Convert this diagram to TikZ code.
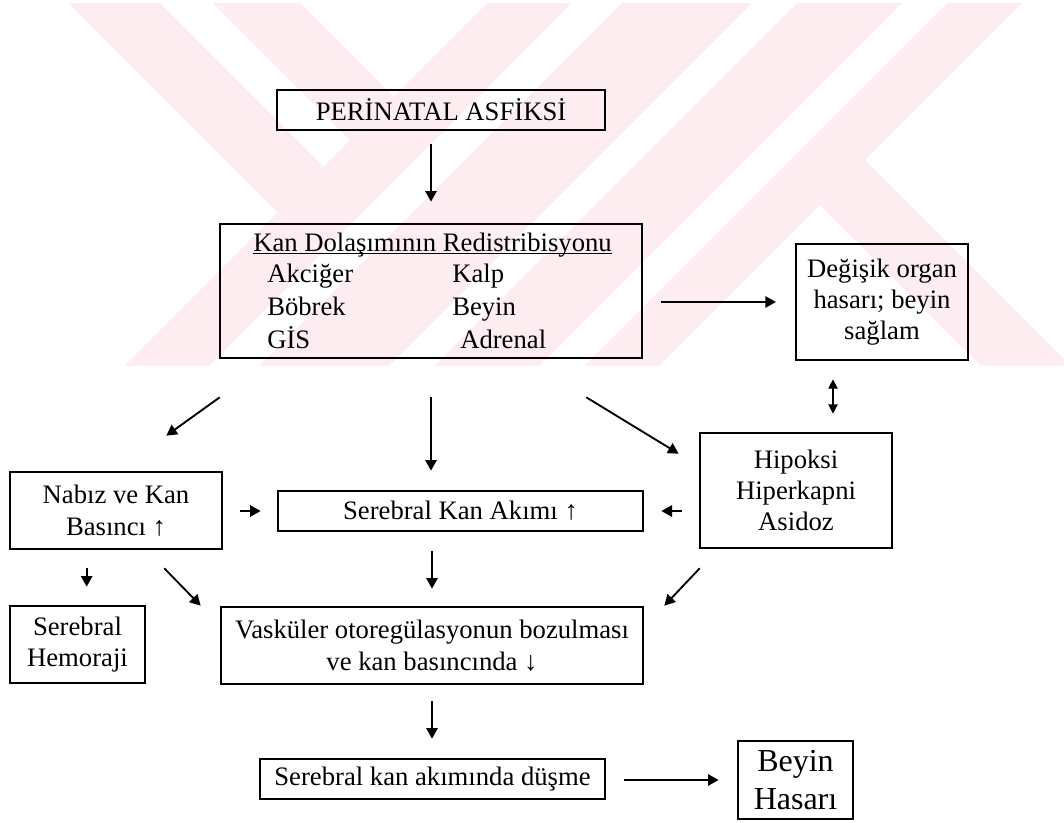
\documentclass[tikz,border=0pt]{standalone}
\usepackage{fontspec}
\setmainfont{Liberation Serif}
\usetikzlibrary{arrows.meta,calc}
\definecolor{wm}{RGB}{253,236,240}
\begin{document}
\begin{tikzpicture}[x=0.75pt,y=-0.75pt,
  box/.style={draw,line width=2pt,inner sep=0pt,align=center,font=\fontsize{20}{23.5}\selectfont},
  txt/.style={inner sep=0pt,font=\fontsize{20}{23.5}\selectfont},
  arr/.style={line width=1.4pt,-{Triangle[length=8pt,width=8.5pt]}},
  dbl/.style={line width=1pt,{Triangle[length=7pt,width=7pt]}-{Triangle[length=7pt,width=7pt]}}]
\useasboundingbox (0,0) rectangle (1064,822);
% watermark
\begin{scope}
\clip (0,3) rectangle (1064,365);
\fill[wm] (65,0) -- (157,0) -- (323.5,166.5) -- (277.5,212.5) -- cycle;
\fill[wm] (210,0) -- (297,0) -- (393.5,96.5) -- (350,140) -- cycle;
\fill[wm] (490,0) -- (575,0) -- (205,370) -- (120,370) -- cycle;
\fill[wm] (625,0) -- (755,0) -- (385,370) -- (255,370) -- cycle;
\fill[wm] (800,0) -- (905,0) -- (535,370) -- (430,370) -- cycle;
\fill[wm] (950,0) -- (1025,0) -- (655,370) -- (580,370) -- cycle;
\fill[wm] (800,185) -- (852.5,147.5) -- (1075,370) -- (985,370) -- cycle;
\end{scope}
% boxes
\node[box,minimum width=246pt,minimum height=30pt] (per) at (441,110) {PERİNATAL ASFİKSİ};
\node[box,minimum width=316.5pt,minimum height=100.5pt] (kan) at (431,291) {};
\node[box,minimum width=129pt,minimum height=87pt] (deg) at (882,302) {Değişik organ\\hasarı; beyin\\sağlam};
\node[box,minimum width=159pt,minimum height=57.75pt] (nab) at (116,510.5) {Nabız ve Kan\\Basıncı ↑};
\node[box,minimum width=273.75pt,minimum height=30pt] (ska) at (460.5,511) {Serebral Kan Akımı ↑};
\node[box,minimum width=144pt,minimum height=86.25pt] (hip) at (796,490.5) {Hipoksi\\Hiperkapni\\Asidoz};
\node[box,minimum width=101.25pt,minimum height=57.75pt] (hem) at (77.5,644.5) {Serebral\\Hemoraji};
\node[box,minimum width=316.5pt,minimum height=57.75pt] (vas) at (432,645.5) {Vasküler otoregülasyonun bozulması\\ve kan basıncında ↓};
\node[box,minimum width=258.75pt,minimum height=30pt] (dus) at (432.5,779) {Serebral kan akımında düşme};
\node[box,minimum width=86.25pt,minimum height=58.5pt,font=\fontsize{24}{28}\selectfont] (bey) at (795.5,780) {Beyin\\Hasarı};
% contents of the redistribution box
\node[txt,anchor=base west] (kt) at (253,251) {Kan Dolaşımının Redistribisyonu};
\draw[line width=0.8pt] ([yshift=-2.2pt]kt.base west) -- ([yshift=-2.2pt]kt.base east);
\node[txt,anchor=base west] (k1) at (267,282) {Akciğer};
\node[txt,anchor=base west] (k2) at (452,282) {Kalp};
\node[txt,anchor=base west] (k3) at (267,315) {Böbrek};
\node[txt,anchor=base west] (k4) at (452,315) {Beyin};
\node[txt,anchor=base west] (k5) at (267,348) {GİS};
\node[txt,anchor=base west] (k6) at (460,348) {Adrenal};
% connectors
\coordinate (dx) at (833,400);
\draw[arr,shorten <=9.75pt,shorten >=15.75pt] (per.south -| kan.north) -- (kan.north);
\draw[arr,shorten <=13.5pt,shorten >=14pt] (kan.east |- deg.west) -- (deg.west);
\draw[dbl,shorten <=13.5pt,shorten >=13.5pt] (deg.south -| dx) -- (hip.north -| dx);
\draw[arr] ($(kan.south west)+(1,38)$) -- ($(nab.north east)+(-57,-35)$);
\draw[arr,shorten <=28.5pt,shorten >=14.25pt] (kan.south) -- (kan.south |- ska.north);
\draw[arr] ($(kan.south east)+(-57,38)$) -- ($(hip.north west)+(-20,22)$);
\draw[arr,shorten <=12.75pt,shorten >=12pt] (nab.east |- ska.west) -- (ska.west);
\draw[arr,shorten <=12.75pt,shorten >=12.75pt] (hip.west |- ska.east) -- (ska.east);
\draw[arr] ($(nab.south west)+(78,18)$) -- ($(hem.north west)+(78,-18)$);
\draw[arr] ($(nab.south east)+(-59,18)$) -- ($(vas.north west)+(-19,0)$);
\draw[arr,shorten <=14.25pt,shorten >=12.75pt] (ska.south -| vas.north) -- (vas.north);
\draw[arr] ($(hip.south west)+(1,19)$) -- ($(vas.north east)+(20,0)$);
\draw[arr,shorten <=12pt,shorten >=14.25pt] (vas.south) -- (vas.south |- dus.north);
\draw[arr,shorten <=13.5pt,shorten >=13.5pt] (dus.east |- bey.west) -- (bey.west);
\end{tikzpicture}
\end{document}
